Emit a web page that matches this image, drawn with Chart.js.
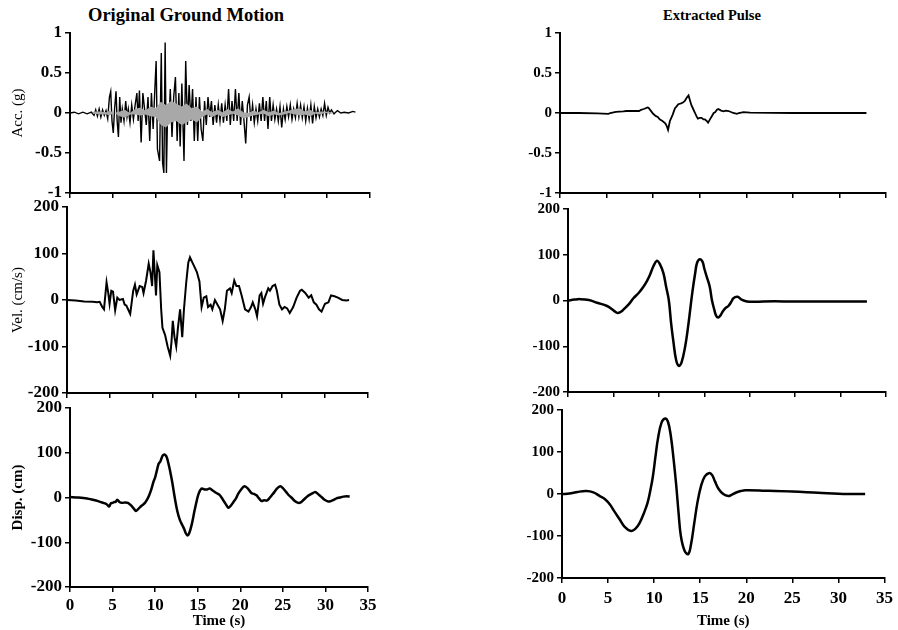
<!DOCTYPE html>
<html>
<head>
<meta charset="utf-8">
<script src="https://cdn.jsdelivr.net/npm/chart.js@4/dist/chart.umd.min.js"></script>
<style>
  body { margin: 0; background: #fff; }
  #wrap { position: relative; width: 898px; height: 630px; overflow: hidden; }
  canvas { position: absolute; left: 0; top: 0; }
  .head { position: absolute; font-family: "Liberation Serif", "Times New Roman", serif; font-weight: bold; color: #000; white-space: nowrap; transform: translate(-50%, -50%); }
</style>
</head>
<body>
<div id="wrap">
  <div class="head" style="left:186px; top:15px; font-size:18.5px;">Original Ground Motion</div>
  <div class="head" style="left:712px; top:15px; font-size:14.5px;">Extracted Pulse</div>
  <canvas id="c1" width="898" height="630"></canvas>
  <canvas id="c2" width="898" height="630"></canvas>
  <canvas id="c3" width="898" height="630"></canvas>
  <canvas id="c4" width="898" height="630"></canvas>
  <canvas id="c5" width="898" height="630"></canvas>
  <canvas id="c6" width="898" height="630"></canvas>
</div>
<script>
// [time (s), value] pairs
const accOrig = [[0,0],[0.5,0.01],[1,-0.01],[1.5,0.01],[2,-0.01],[2.5,0.01],[2.8,-0.03],[3.0,0.04],[3.2,-0.04],[3.4,0.05],[3.6,-0.05],[3.8,0.04],[4.0,-0.03],[4.2,0.03],[4.4,-0.07],
  [4.6,0.2],[4.75,0.27],[4.9,-0.1],[5.05,-0.25],[5.2,0.05],[5.37,0.27],[5.5,-0.1],[5.65,-0.3],[5.8,0.2],[5.95,-0.12],[6.1,0.05],[6.3,-0.1],[6.5,0.15],[6.65,-0.05],[6.8,0.05],[7.0,-0.12],[7.2,0.1],[7.4,-0.08],[7.6,0.1],[7.8,0.25],[7.95,-0.1],[8.1,0.28],[8.3,-0.37],[8.5,0.25],[8.7,0.05],[8.9,-0.15],[9.1,0.2],[9.3,-0.35],[9.5,0.25],[9.7,-0.2],[9.9,0.3],
  [10.05,0.65],[10.2,-0.45],[10.45,-0.6],[10.65,0.75],[10.8,-0.62],[10.95,-0.75],[11.1,0.88],[11.25,-0.75],[11.4,0.1],[11.55,-0.1],[11.7,0.3],[11.9,-0.3],[12.1,0.2],[12.3,0.45],[12.5,-0.35],[12.7,0.25],[12.85,-0.42],[13.05,0.37],[13.3,-0.6],[13.5,0.65],[13.7,-0.15],[13.9,0.35],[14.1,-0.1],[14.3,0.3],[14.5,-0.35],[14.7,0.2],[14.9,-0.35],
  [15.1,0.2],[15.3,-0.2],[15.5,-0.35],[15.7,0.15],[15.9,-0.15],[16.1,0.2],[16.3,-0.05],[16.5,0.15],[16.7,-0.15],[16.9,0.1],[17.1,-0.12],[17.3,0.1],[17.5,-0.1],[17.7,0.12],[17.9,-0.12],[18.1,0.1],[18.3,-0.1],[18.5,0.3],[18.7,-0.15],[18.9,0.15],[19.1,-0.1],[19.3,0.3],[19.5,-0.1],[19.7,0.25],[19.9,-0.15],
  [20.1,0.15],[20.3,-0.1],[20.5,-0.38],[20.7,0.1],[20.9,0.2],[21.1,-0.1],[21.3,0.1],[21.5,-0.12],[21.7,0.05],[21.9,-0.1],[22.1,0.12],[22.3,-0.1],[22.5,0.2],[22.7,-0.1],[22.9,0.15],[23.1,-0.2],[23.3,0.2],[23.5,-0.1],[23.7,0.1],[23.9,-0.08],[24.1,0.05],[24.3,-0.1],[24.5,0.08],[24.7,-0.18],[24.9,0.05],
  [25.1,-0.08],[25.3,0.08],[25.5,-0.05],[25.7,0.1],[25.9,-0.08],[26.1,0.05],[26.3,-0.06],[26.5,0.12],[26.7,-0.05],[26.9,0.1],[27.1,-0.06],[27.3,0.08],[27.5,-0.1],[27.7,0.06],[27.9,-0.08],[28.1,0.1],[28.3,-0.13],[28.5,0.08],[28.7,-0.06],[28.9,0.05],[29.1,-0.05],[29.3,0.05],[29.5,-0.03],[29.7,0.12],[29.9,-0.03],
  [30.1,0.07],[30.3,0.0],[30.5,0.04],[30.8,-0.01],[31.2,0.03],[31.6,0.0],[32.0,0.01],[32.5,0.0],[33.0,0.02],[33.3,0.01]];

// grey shading seen inside the acceleration trace (upper / lower edge)
const accShadeHi = [[2.6,0],[2.8,0.02],[3.5,0.02],[4.3,0.01],[4.6,0.03],[5.2,0.0],[5.8,0.02],[6.4,0.04],[7.0,0.0],[7.6,0.05],[8.2,0.07],[8.8,0.03],[9.4,0.08],[10.0,0.06],[10.6,0.14],[11.2,0.1],[11.8,0.15],[12.4,0.12],[13.0,0.08],[13.6,0.12],[14.2,0.06],[14.8,0.08],[15.4,0.02],[16.0,0.05],[16.6,0.01],[17.2,0.04],[17.8,0.01],[18.4,0.05],[19.0,0.02],[19.6,0.06],[20.2,0.01],[20.8,0.0],[21.4,0.03],[22.0,0.01],[22.6,0.04],[23.2,0.01],[23.8,0.03],[24.4,0.0],[25.0,0.02],[25.6,0.03],[26.2,0.05],[26.8,0.06],[27.4,0.02],[28.0,0.04],[28.6,0.01],[29.2,0.02],[29.8,0.02],[30.4,0.01],[30.8,0]];
const accShadeLo = [[2.6,0],[2.8,-0.01],[3.5,-0.02],[4.3,-0.02],[4.6,-0.03],[5.2,0.0],[5.8,-0.04],[6.4,-0.06],[7.0,-0.02],[7.6,-0.02],[8.2,-0.03],[8.8,-0.02],[9.4,-0.04],[10.0,-0.05],[10.6,-0.15],[11.2,-0.18],[11.8,-0.12],[12.4,-0.1],[13.0,-0.15],[13.6,-0.12],[14.2,-0.08],[14.8,-0.12],[15.4,-0.05],[16.0,-0.02],[16.6,-0.05],[17.2,-0.02],[17.8,-0.05],[18.4,-0.03],[19.0,-0.01],[19.6,-0.03],[20.2,-0.07],[20.8,-0.05],[21.4,-0.03],[22.0,-0.02],[22.6,-0.01],[23.2,-0.04],[23.8,-0.02],[24.4,-0.03],[25.0,-0.02],[25.6,0.0],[26.2,-0.02],[26.8,-0.03],[27.4,-0.02],[28.0,-0.04],[28.6,-0.01],[29.2,-0.02],[29.8,0.0],[30.4,-0.01],[30.8,0]];

const velOrig = [[0,0],[1,-1],[2,-3],[3,-4],[3.5,-5],[3.8,-4],[4.1,-15],[4.3,-20],[4.6,38],[4.8,15],[4.95,-8],[5.15,20],[5.35,18],[5.6,-22],[5.85,5],[6.1,0],[6.5,2],[6.7,-10],[6.9,-12],[7.35,-30],[7.7,20],[7.9,33],[8.1,12],[8.45,30],[8.75,28],[8.9,15],[9.2,42],[9.5,78],[9.7,60],[9.9,30],
  [10.05,107],[10.2,60],[10.35,10],[10.5,75],[10.75,60],[10.95,-20],[11.1,-60],[11.4,-75],[11.7,-100],[12.0,-120],[12.15,-90],[12.3,-45],[12.5,-80],[12.7,-100],[12.9,-60],[13.15,-20],[13.4,-80],[13.6,-20],[13.85,35],[14.1,80],[14.3,92],[14.6,80],[14.85,70],[15.1,60],[15.4,40],[15.65,-15],[15.9,5],
  [16.2,8],[16.4,-15],[16.7,-10],[16.9,-20],[17.2,0],[17.5,-10],[17.8,-20],[18.1,-45],[18.35,-20],[18.6,20],[18.95,25],[19.15,15],[19.45,42],[19.7,30],[20.0,30],[20.3,10],[20.7,-20],[21.1,-25],[21.4,-15],[21.6,-5],[21.9,-20],[22.1,-35],[22.4,10],[22.6,15],[22.8,-8],[23.0,5],[23.4,25],[23.6,20],[23.9,30],
  [24.2,33],[24.4,20],[24.7,-10],[25.0,-20],[25.3,-15],[25.6,-18],[25.9,-28],[26.3,-15],[26.7,5],[27.1,20],[27.3,22],[27.7,15],[28.1,5],[28.4,10],[28.7,-5],[29.0,-10],[29.3,-20],[29.6,-25],[30.0,-8],[30.4,-5],[30.7,10],[31.1,8],[31.5,5],[32.0,0],[32.5,-1],[32.8,0]];

const dispOrig = [[0,1],[1,0],[2,-2],[2.7,-5],[3.3,-8],[3.9,-12],[4.3,-15],[4.6,-20],[4.8,-13],[5.0,-12],[5.2,-10],[5.35,-10],[5.55,-5],[5.8,-10],[6.1,-12],[6.5,-11],[6.8,-12],[7.2,-18],[7.5,-25],[7.75,-30],[8.0,-26],[8.2,-22],[8.5,-17],[8.8,-12],[9.1,-3],[9.3,5],[9.55,18],[9.8,35],
  [10.0,45],[10.2,60],[10.4,75],[10.6,80],[10.8,90],[10.95,95],[11.2,95],[11.4,88],[11.75,60],[12.0,35],[12.3,0],[12.6,-30],[12.9,-50],[13.2,-62],[13.4,-70],[13.6,-80],[13.8,-85],[14.0,-80],[14.3,-60],[14.6,-32],[14.85,-10],[15.1,8],[15.45,20],[15.8,18],[16.1,18],[16.4,20],[16.8,15],[17.2,10],[17.5,7],
  [17.8,0],[18.2,-12],[18.6,-23],[18.9,-18],[19.2,-10],[19.5,-2],[19.75,8],[20.1,18],[20.5,25],[20.9,20],[21.3,10],[21.6,8],[21.9,5],[22.2,-2],[22.5,-8],[22.8,-6],[23.1,-7],[23.4,-2],[23.7,5],[24.0,12],[24.3,20],[24.7,25],[25.0,21],[25.4,12],[25.7,5],[26.0,0],[26.4,-8],[26.8,-12],[27.1,-11],
  [27.45,-5],[27.9,3],[28.35,8],[28.75,12],[29.0,10],[29.3,5],[29.6,0],[29.9,-5],[30.2,-8],[30.5,-9],[30.9,-6],[31.3,-2],[31.7,0],[32.1,2],[32.5,3],[32.85,2]];

const accPulse = [[0,0],[2,0],[4,-0.005],[5.2,-0.01],[5.4,0.0],[6.0,0.015],[6.8,0.02],[7.1,0.025],[8.5,0.025],[8.7,0.04],[9.0,0.05],[9.4,0.07],[9.5,0.065],[9.8,0.02],[10.0,-0.01],[10.3,-0.04],[10.5,-0.05],[10.7,-0.08],[11.0,-0.1],[11.3,-0.13],[11.45,-0.16],[11.6,-0.21],[11.8,-0.1],[11.95,-0.06],[12.1,-0.02],[12.25,0.03],[12.35,0.06],[12.5,0.08],[12.7,0.11],[13.0,0.12],[13.2,0.13],[13.4,0.15],[13.6,0.19],[13.8,0.22],[13.95,0.16],[14.1,0.1],[14.3,0.05],[14.5,0.0],[14.65,-0.04],[14.8,-0.07],[15.0,-0.06],[15.2,-0.06],[15.4,-0.08],[15.55,-0.08],[15.75,-0.1],[15.9,-0.12],[16.1,-0.08],[16.3,-0.04],[16.5,0.0],[16.65,0.01],[16.85,0.04],[17.0,0.05],[17.3,0.03],[17.55,0.02],[17.8,0.03],[18.1,0.025],[18.6,0.0],[19.0,-0.01],[19.2,0.0],[19.7,0.01],[20.4,0.005],[25,0.0],[32.9,0.0]];

const velPulse = [[0,0],[0.7,2],[1.35,3],[2.3,1],[3.2,-5],[4.3,-12],[4.9,-20],[5.4,-27],[5.8,-25],[6.1,-20],[6.7,-8],[7.2,5],[7.8,17],[8.3,30],[8.7,43],[9.0,55],[9.4,75],[9.8,87],[10.1,80],[10.5,60],[10.8,30],[11.1,0],[11.35,-50],[11.6,-90],[11.9,-130],[12.2,-143],[12.5,-135],[12.9,-100],[13.2,-60],[13.45,-20],[13.7,20],[14.0,60],[14.2,82],[14.5,90],[14.8,85],[15.0,70],[15.3,50],[15.6,30],[15.85,0],[16.1,-20],[16.3,-33],[16.55,-37],[16.8,-32],[17.0,-25],[17.3,-17],[17.65,-12],[18.0,-2],[18.2,5],[18.65,8],[19.1,2],[19.7,-2],[20.4,-3],[21.5,-2],[25,-2],[30,-2],[32.9,-2]];

const dispPulse = [[0,0],[0.8,1],[1.7,5],[2.65,7],[3.4,4],[4.1,-5],[4.7,-13],[5.2,-25],[5.7,-42],[6.25,-60],[6.8,-78],[7.5,-88],[8.0,-82],[8.4,-70],[8.9,-45],[9.3,-20],[9.6,10],[9.85,40],[10.15,90],[10.4,130],[10.8,170],[11.2,180],[11.5,172],[11.8,140],[12.1,85],[12.4,20],[12.65,-45],[12.9,-100],[13.3,-135],[13.7,-143],[14.0,-120],[14.35,-70],[14.7,-20],[15.1,20],[15.5,42],[16.0,50],[16.3,45],[16.6,30],[17.0,12],[17.5,0],[18.05,-5],[18.4,-2],[18.85,3],[19.4,7],[19.9,9],[22.1,8],[25,6],[27.8,3],[31,0],[32.9,0]];

const timeTicks = [0, 35, 5];      // min, max, step
const accTicks = [-1, 1, 0.5];
const cmTicks = [-200, 200, 100];

const W = 898, H = 630;
const serif = '"Liberation Serif", "Times New Roman", serif';

function panel(id, series, box, o) {
  // box = [left, top, right, bottom] of the plot area, yW / xH = axis band sizes
  const [l, t, r, b] = box;
  const datasets = [];
  // grey band goes first so it sits over the dense black trace, like the original
  if (o.shade) {
    datasets.push({ data: o.shade[0], borderWidth: 0, pointRadius: 0, fill: false });
    datasets.push({ data: o.shade[1], borderWidth: 0, pointRadius: 0, fill: '-1', backgroundColor: '#a8a8a8' });
  }
  datasets.push({
    data: series,
    borderColor: '#000',
    borderWidth: o.lw,
    pointRadius: 0,
    tension: o.tension || 0,
    fill: false
  });
  new Chart(document.getElementById(id), {
    type: 'line',
    data: { datasets: datasets },
    options: {
      responsive: false,
      animation: false,
      events: [],
      layout: { autoPadding: false, padding: { left: l - o.yW, top: t, right: W - r, bottom: H - b - o.xH } },
      plugins: { legend: { display: false }, tooltip: { enabled: false } },
      scales: {
        x: {
          type: 'linear', min: timeTicks[0], max: timeTicks[1],
          afterFit: s => { s.height = o.xH; },
          border: { color: '#000', width: 2 },
          grid: { drawOnChartArea: false, tickLength: 5, color: '#000', lineWidth: 1.5 },
          ticks: { stepSize: timeTicks[2], display: !!o.xTitle, color: '#000', padding: o.xPad || 3, maxRotation: 0,
                   font: { family: serif, size: 17, weight: 'bold' } },
          title: { display: !!o.xTitle, text: o.xTitle, color: '#000', padding: 0,
                   font: { family: serif, size: 15, weight: 'bold' } }
        },
        y: {
          min: o.yt[0], max: o.yt[1],
          afterFit: s => { s.width = o.yW; },
          border: { color: '#000', width: 2 },
          grid: { drawOnChartArea: false, tickLength: 5, color: '#000', lineWidth: 1.5 },
          ticks: { stepSize: o.yt[2], color: '#000', padding: 3, callback: v => String(v),
                   font: { family: serif, size: o.yFont, weight: 'bold' } },
          title: { display: !!o.yTitle, text: o.yTitle, color: '#000', padding: { top: 9, bottom: 0 },
                   font: { family: serif, size: 15, weight: o.yBold ? 'bold' : 'normal' } }
        }
      }
    }
  });
}

panel('c1', accOrig, [70, 33, 370, 193], { yW: 70, xH: 8, yt: accTicks, yFont: 17, lw: 1.4, shade: [accShadeHi, accShadeLo], yTitle: 'Acc. (g)' });
panel('c2', velOrig, [67, 207, 368, 393], { yW: 67, xH: 8, yt: cmTicks, yFont: 17, lw: 2, yTitle: 'Vel. (cm/s)' });
panel('c3', dispOrig, [70, 408, 368, 587], { yW: 70, xH: 43, yt: cmTicks, yFont: 17, lw: 2.5, tension: 0.3, yTitle: 'Disp. (cm)', yBold: true, xTitle: 'Time (s)' });
panel('c4', accPulse, [560, 33, 886, 193], { yW: 60, xH: 8, yt: accTicks, yFont: 15, lw: 1.8 });
panel('c5', velPulse, [568, 209, 886, 392], { yW: 60, xH: 8, yt: cmTicks, yFont: 15, lw: 2.5, tension: 0.4 });
panel('c6', dispPulse, [562, 410, 886, 578], { yW: 60, xH: 52, yt: cmTicks, yFont: 15, lw: 2.5, tension: 0.4, xTitle: 'Time (s)', xPad: 5 });
</script>
</body>
</html>
